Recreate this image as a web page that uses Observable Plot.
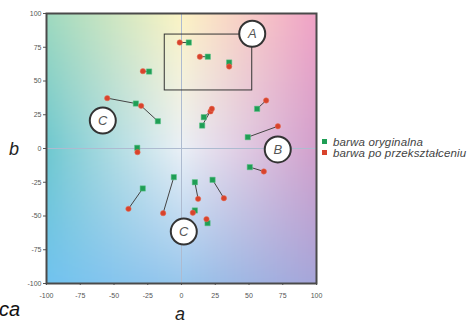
<!DOCTYPE html>
<html>
<head>
<meta charset="utf-8">
<script src="https://cdn.jsdelivr.net/npm/d3@7"></script>
<script src="https://cdn.jsdelivr.net/npm/@observablehq/plot@0.6"></script>
<style>
  html, body { margin: 0; padding: 0; background: #fff; overflow: hidden; }
  #wrap { position: relative; width: 474px; height: 323px; font-family: "Liberation Sans", Arial, sans-serif; }
  #wrap svg { position: absolute; left: 0; top: 0; }
  .ov { position: absolute; font-style: italic; white-space: nowrap; line-height: 1; }
  .leg { position: absolute; left: 322px; font-size: 11.5px; line-height: 10px; height: 10px; font-style: italic; color: #444; white-space: nowrap; letter-spacing: 0.15px; }
  .sw { display: inline-block; width: 5px; height: 5px; margin-right: 6px; vertical-align: middle; position: relative; top: -1px; }
</style>
</head>
<body>
<div id="wrap"></div>
<script>
// ---- data ----
const xTicks = [-100, -75, -50, -25, 0, 25, 50, 75, 100];
const yTicks = [-100, -75, -50, -25, 0, 25, 50, 75, 100];

// original colour (green) a*, b*
const origA = [5.4, 19.5, 35.3, -24, -33.8, -17.5, -32.8, 16.5, 15.3, 56, 49.1, 50.6, -5.7, 9.9, 23, 9.9, 19.3, -28.7];
const origB = [78.5, 68, 63.7, 57, 33.3, 20.2, 0.5, 23.2, 17, 29.4, 8.4, -13.8, -21.2, -25, -23.2, -45.9, -55.3, -29.6];
// transformed colour (red) a*, b*
const transA = [-1.3, 13.6, 35.3, -28.6, -55, -29.9, -32.6, 21.5, 22.5, 62.7, 71.4, 61, -13.6, 12.3, 31.4, 8.4, 18.5, -39.3];
const transB = [78.5, 68, 60.7, 57.3, 37.3, 31.6, -2.7, 27.5, 29.4, 35.6, 16.5, -17, -47.9, -37.3, -36.8, -47.6, -52.3, -44.7];

// region labels
const regionNames = ["A", "B", "C", "C"];
const regionA = [52.4, 71.3, -58.3, 1.7];
const regionB = [85, -0.7, 20.7, -61.5];

// region A box
const boxA = [-12.4, 52.4];
const boxB = [43, 84.4];

const legendLabels = ["barwa oryginalna", "barwa po przekształceniu"];

// ---- background colour field (a*, b* plane) ----
const bgGrid = [
  ["#9ed9bf", "#fbf3c4", "#f0a2c6"],
  ["#6ec8cf", "#eaf0f6", "#d2a0cc"],
  ["#70c3ef", "#98c6ec", "#a6a5d9"]
];
function bg(a, b) {
  const u = (a + 100) / 100; // 0..2
  const v = (100 - b) / 100; // 0..2 (top to bottom)
  const i = Math.min(1, Math.floor(u)), j = Math.min(1, Math.floor(v));
  const fu = u - i, fv = v - j;
  const top = d3.interpolateLab(bgGrid[j][i], bgGrid[j][i + 1])(fu);
  const bot = d3.interpolateLab(bgGrid[j + 1][i], bgGrid[j + 1][i + 1])(fu);
  return d3.interpolateLab(top, bot)(fv);
}

const pairs = origA.map((a, i) => ({ga: a, gb: origB[i], ra: transA[i], rb: transB[i]}));
const regions = regionNames.map((n, i) => ({name: n, a: regionA[i], b: regionB[i]}));
const box = [{x1: boxA[0], x2: boxA[1], y1: boxB[0], y2: boxB[1]}];

const GREEN = "#1f9e55", RED = "#d8432c";

const chart = Plot.plot({
  width: 474,
  height: 323,
  marginLeft: 46,
  marginRight: 158,
  marginTop: 13,
  marginBottom: 40,
  style: {fontSize: "7px", color: "#555", fontFamily: "Liberation Sans, Arial, sans-serif", background: "transparent"},
  color: {type: "identity"},
  x: {domain: [-100, 100], ticks: xTicks, tickSize: 2, tickPadding: 8, tickFormat: d => String(d), label: null},
  y: {domain: [-100, 100], ticks: yTicks, tickSize: 3, tickPadding: 2, tickFormat: d => String(d), label: null},
  marks: [
    Plot.raster({x1: -100, x2: 100, y1: -100, y2: 100, fill: (x, y) => bg(x, y)}),
    Plot.ruleX([0], {stroke: "#aebbd0", strokeWidth: 1}),
    Plot.ruleY([0], {stroke: "#aebbd0", strokeWidth: 1}),
    Plot.rect(box, {x1: "x1", x2: "x2", y1: "y1", y2: "y2", fill: "none", stroke: "#333", strokeWidth: 1}),
    Plot.link(pairs, {x1: "ga", y1: "gb", x2: "ra", y2: "rb", stroke: "#444", strokeWidth: 1}),
    Plot.dot(pairs, {x: "ga", y: "gb", symbol: "square", r: 3, fill: GREEN, stroke: "#5cc489", strokeWidth: 0.5}),
    Plot.dot(pairs, {x: "ra", y: "rb", symbol: "circle", r: 2.7, fill: RED, stroke: "#e8735a", strokeWidth: 0.5}),
    Plot.dot(regions, {x: "a", y: "b", r: 13, fill: "white", stroke: "#333", strokeWidth: 2}),
    Plot.text(regions, {x: "a", y: "b", text: "name", fontSize: 13, fontStyle: "italic", fill: "#555"}),
    Plot.frame({stroke: "#4a4a4a", strokeWidth: 2})
  ]
});

const wrap = document.getElementById("wrap");
wrap.appendChild(chart);

function addText(txt, left, top, size, color) {
  const d = document.createElement("div");
  d.className = "ov";
  d.textContent = txt;
  d.style.left = left + "px";
  d.style.top = top + "px";
  d.style.fontSize = size + "px";
  d.style.color = color;
  wrap.appendChild(d);
}
addText("b", 9, 140, 18, "#222");
addText("a", 175, 305, 18, "#222");
addText("ca", -1, 299, 20, "#111");

[GREEN, RED].forEach((c, i) => {
  const d = document.createElement("div");
  d.className = "leg";
  d.style.top = (137 + i * 10.5) + "px";
  const s = document.createElement("span");
  s.className = "sw";
  s.style.background = c;
  d.appendChild(s);
  d.appendChild(document.createTextNode(legendLabels[i]));
  wrap.appendChild(d);
});
</script>
</body>
</html>
